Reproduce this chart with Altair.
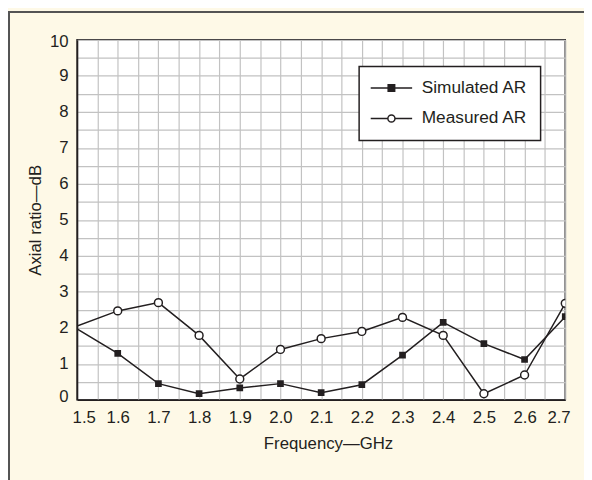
import altair as alt
import pandas as pd

freq = [1.5, 1.6, 1.7, 1.8, 1.9, 2.0, 2.1, 2.2, 2.3, 2.4, 2.5, 2.6, 2.7]
simulated = [1.97, 1.29, 0.45, 0.17, 0.33, 0.45, 0.20, 0.42, 1.24, 2.15, 1.56, 1.12, 2.31]
measured = [2.05, 2.47, 2.70, 1.79, 0.58, 1.40, 1.70, 1.90, 2.29, 1.79, 0.17, 0.69, 2.68]
series_names = ["Simulated AR", "Measured AR"]

x_grid = [round(1.5 + 0.05 * i, 2) for i in range(25)]
y_grid = [0.5 * i for i in range(21)]

INK = "#231F20"
FONT = "Liberation Sans"

df = pd.DataFrame({
    "f": freq + freq,
    "ar": simulated + measured,
    "series": [series_names[0]] * len(freq) + [series_names[1]] * len(freq),
})

x = alt.X(
    "f:Q",
    scale=alt.Scale(domain=[1.5, 2.7], nice=False, zero=False),
    axis=alt.Axis(
        values=x_grid,
        labelExpr="round(datum.value*100) % 10 == 0 ? format(datum.value, '.1f') : ''",
        title="Frequency\u2014GHz",
        titleX=254.5,
        ticks=False,
        labelPadding=10,
        titlePadding=10,
        labelFont=FONT, labelFontSize=17, labelColor=INK,
        titleFont=FONT, titleFontSize=17, titleFontWeight="normal", titleColor=INK,
        labelFlush=True, labelFlushOffset=5, labelOverlap=False,
    ),
)
y = alt.Y(
    "ar:Q",
    scale=alt.Scale(domain=[0, 10], nice=False),
    axis=alt.Axis(
        values=y_grid,
        labelExpr="datum.value % 1 == 0 ? format(datum.value, 'd') : ''",
        title="Axial ratio\u2014dB",
        ticks=False,
        labelPadding=9,
        titlePadding=5,
        labelFont=FONT, labelFontSize=17, labelColor=INK,
        titleFont=FONT, titleFontSize=17, titleFontWeight="normal", titleColor=INK,
        labelFlush=True, labelFlushOffset=6, labelOverlap=False,
    ),
)

base = alt.Chart(df)

lines = base.mark_line(color=INK, strokeWidth=1.5, clip=True).encode(x=x, y=y, detail="series:N")

sim_pts = base.transform_filter(
    "datum.series == 'Simulated AR' && datum.f > 1.55"
).mark_point(shape="square", filled=True, color=INK, size=46, opacity=1, clip=True).encode(x=x, y=y)

meas_pts = base.transform_filter(
    "datum.series == 'Measured AR' && datum.f > 1.55"
).mark_point(shape="circle", fill="white", stroke=INK, strokeWidth=1.5, size=64, opacity=1, clip=True).encode(x=x, y=y)

sym_sim = "M-3.5,0H3.5M-0.55,-0.55H0.55V0.55H-0.55Z"
sym_meas = "M-3.5,0H-0.6M0.6,0H3.5M-0.6,0A0.6,0.6 0 1,0 0.6,0A0.6,0.6 0 1,0 -0.6,0Z"

leg = alt.Legend(
    orient="none", legendX=286, legendY=27, title=None,
    fillColor="white", strokeColor=INK, padding=13, rowPadding=12,
    labelFontSize=17.5, labelFont=FONT, labelColor=INK,
    symbolSize=144, symbolStrokeWidth=1.5, symbolStrokeColor=INK,
    symbolOffset=11, labelOffset=22,
)

legend_layer = base.transform_filter("false").mark_point(
    stroke=INK, strokeWidth=1.5, opacity=1
).encode(
    x=x, y=y,
    shape=alt.Shape("series:N", scale=alt.Scale(domain=series_names, range=[sym_sim, sym_meas]), legend=leg),
    fill=alt.Fill("series:N", scale=alt.Scale(domain=series_names, range=[INK, "white"]), legend=leg),
    stroke=alt.Stroke("series:N", scale=alt.Scale(domain=series_names, range=[INK, INK]), legend=leg),
)

frame_top = alt.Chart(df).mark_rule(color="#555555", strokeWidth=1.5).encode(
    x=alt.value(-70), x2=alt.value(520), y=alt.value(-28)
)
frame_left = alt.Chart(df).mark_rule(color="#555555", strokeWidth=1.5).encode(
    x=alt.value(-69), y=alt.value(-29), y2=alt.value(450)
)

chart = alt.layer(frame_top, frame_left, lines, sim_pts, meas_pts, legend_layer).properties(
    width=495, height=365,
    autosize=alt.AutoSizeParams(type="none"),
    padding={"left": 70, "top": 29, "right": 19, "bottom": 78},
    background="#FEF9E7",
).configure_view(
    stroke=INK, strokeWidth=1.5, fill="white"
).configure_axis(
    gridColor="#C2C2C2", gridWidth=1.2, gridOpacity=1,
    domainColor=INK, domainWidth=1.5,
).configure_legend(strokeWidth=1.5)

chart.save("out.html", embed_options={"renderer": "svg", "actions": False})
